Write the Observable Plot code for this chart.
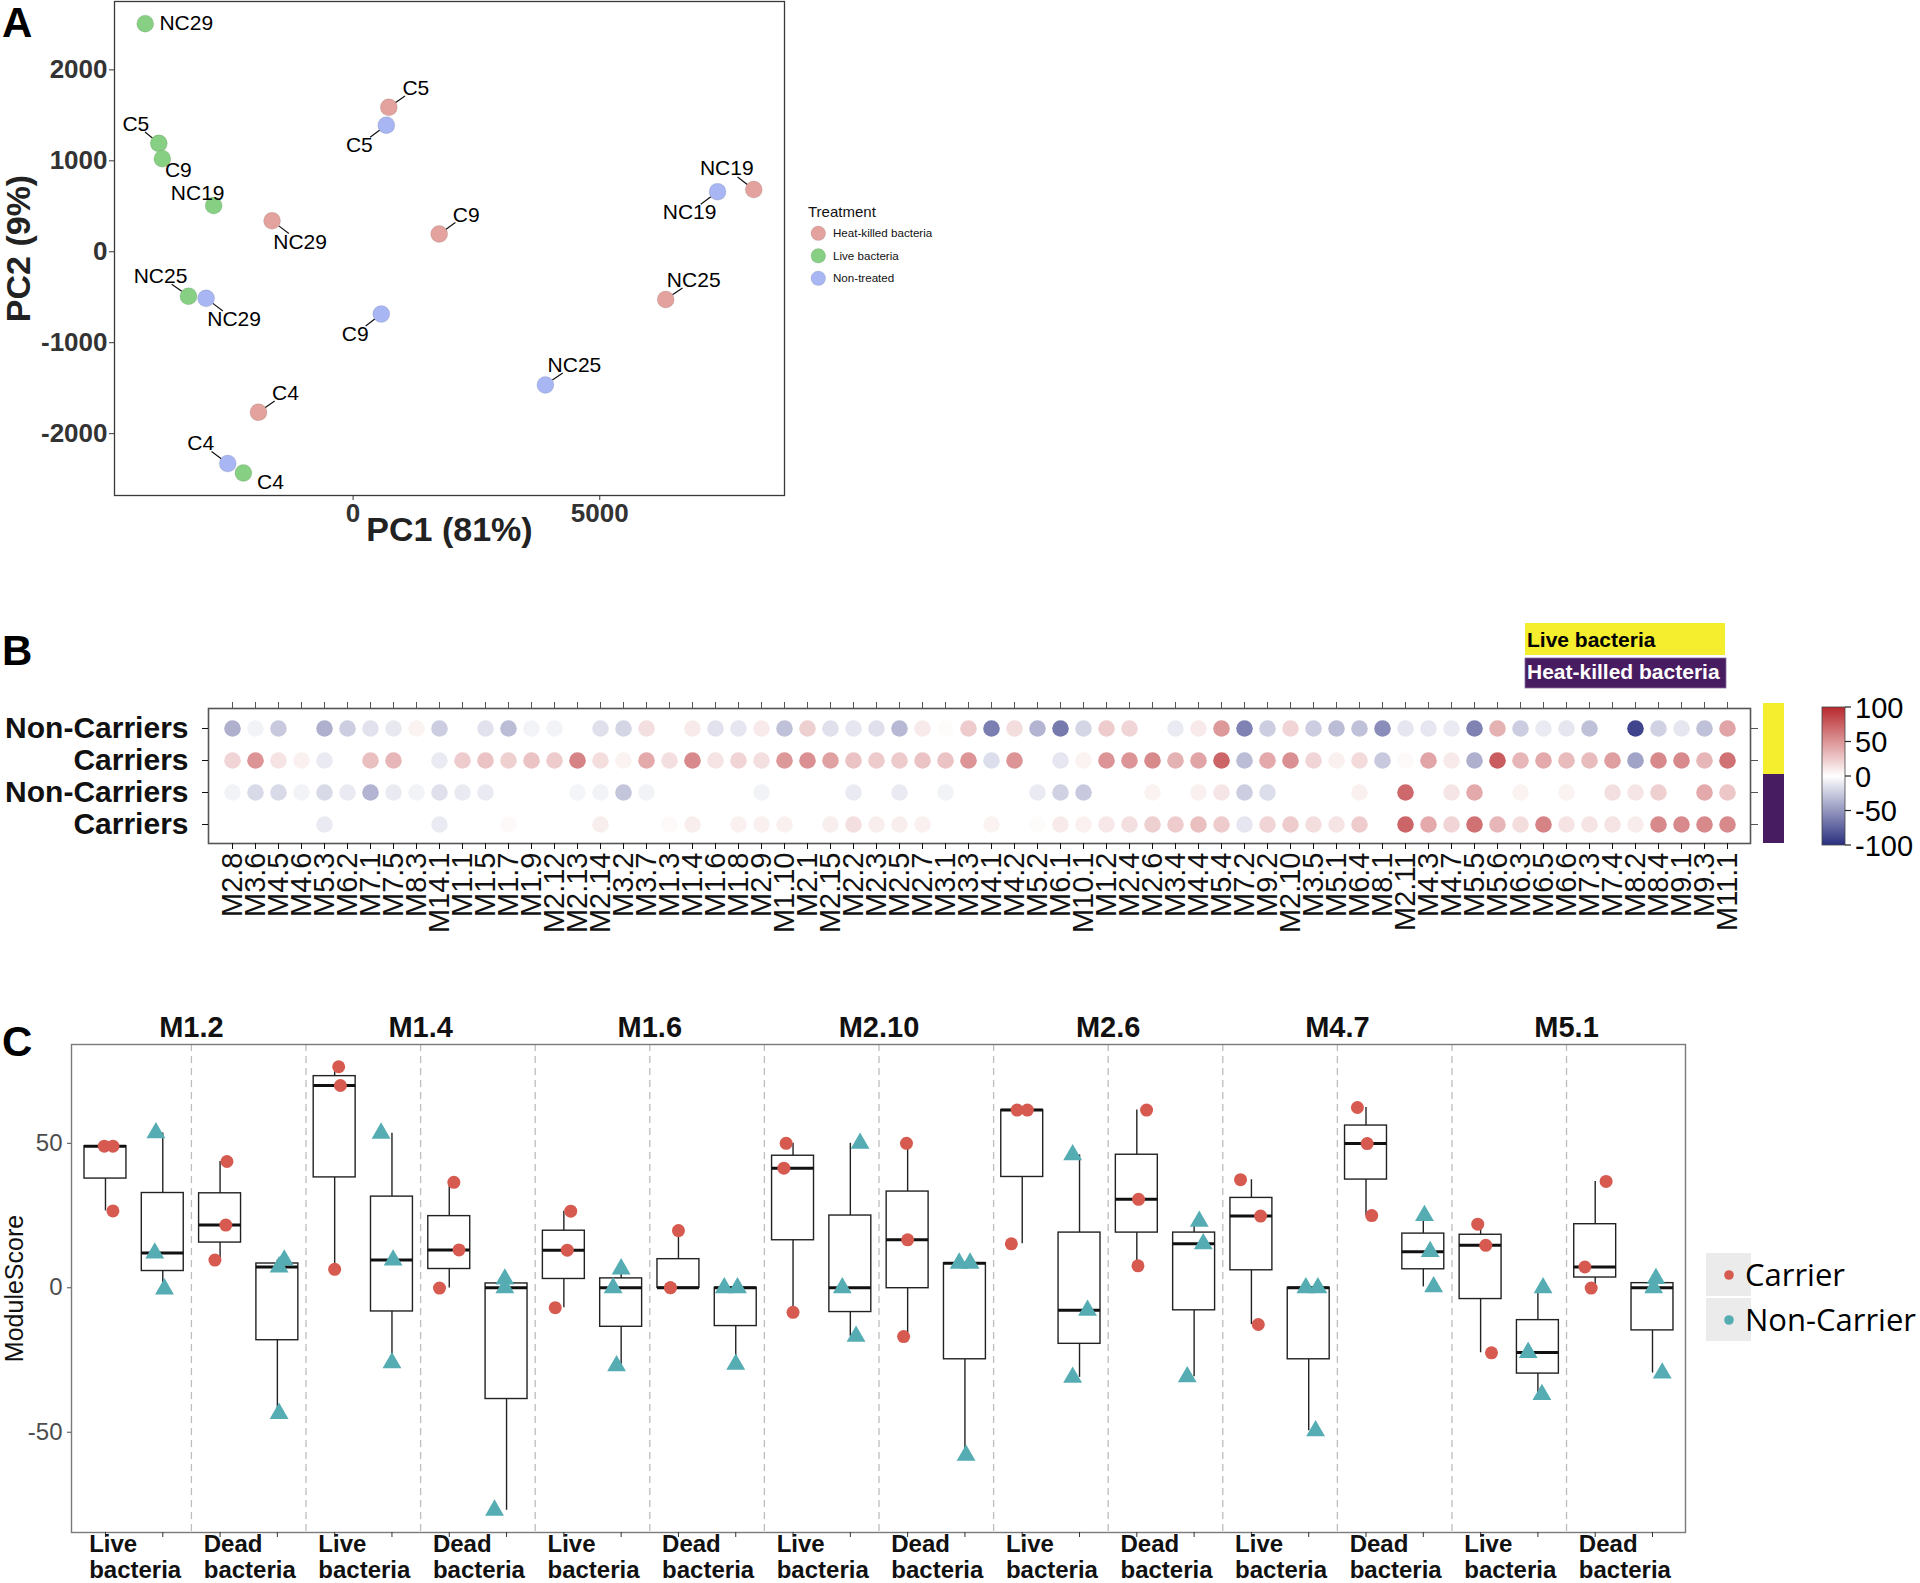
<!DOCTYPE html>
<html>
<head>
<meta charset="utf-8">
<script src="https://cdn.jsdelivr.net/npm/d3@7"></script>
<script src="https://cdn.jsdelivr.net/npm/@observablehq/plot@0.6"></script>
<style>
html,body{margin:0;padding:0;background:#fff;}
#page{position:relative;width:1920px;height:1583px;overflow:hidden;background:#fff;font-family:"Liberation Sans",Arial,Helvetica,sans-serif;}
#page svg{position:absolute;overflow:visible;}
</style>
</head>
<body>
<div id="page"></div>
<script>
// ================= DATA =================
// ---- Panel A: PCA ----
const treatmentLevels = ["Heat-killed bacteria", "Live bacteria", "Non-treated"];
const pcaSamples   = ["NC29","C5","C9","NC19","NC25","C4",  "C5","NC19","NC29","C9","NC25","C4",  "C5","NC19","NC29","C9","NC25","C4"];
const pcaTreatment = ["Live bacteria","Live bacteria","Live bacteria","Live bacteria","Live bacteria","Live bacteria",
                      "Non-treated","Non-treated","Non-treated","Non-treated","Non-treated","Non-treated",
                      "Heat-killed bacteria","Heat-killed bacteria","Heat-killed bacteria","Heat-killed bacteria","Heat-killed bacteria","Heat-killed bacteria"];
const pcaPC1 = [-4214,-3939,-3867,-2827,-3337,-2224,   673, 7388,-2980,  571, 3898,-2541,   724, 8122,-1643, 1745, 6337,-1918];
const pcaPC2 = [ 2508, 1192, 1024,  508, -488,-2432,  1392,  660, -512, -684,-1464,-2328,  1588,  684,  340,  196, -524,-1764];
const pcaXTicks = [0, 5000];
const pcaYTicks = [-2000, -1000, 0, 1000, 2000];

// ---- Panel B: module dot matrix ----
const bModules = ["M2.8","M3.6","M4.5","M4.6","M5.3","M6.2","M7.1","M7.5","M8.3","M14.1",
  "M1.1","M1.5","M1.7","M1.9","M2.12","M2.13","M2.14","M3.2","M3.7","M1.3",
  "M1.4","M1.6","M1.8","M2.9","M1.10","M2.1","M2.15","M2.2","M2.3","M2.5",
  "M2.7","M3.1","M3.3","M4.1","M4.2","M5.2","M6.1","M10.1","M1.2","M2.4",
  "M2.6","M3.4","M4.4","M5.4","M7.2","M9.2","M2.10","M3.5","M5.1","M6.4",
  "M8.1","M2.11","M4.3","M4.7","M5.5","M5.6","M6.3","M6.5","M6.6","M7.3",
  "M7.4","M8.2","M8.4","M9.1","M9.3","M11.1"];
const bRowKeys   = ["Live|Non-Carriers", "Live|Carriers", "Heat-killed|Non-Carriers", "Heat-killed|Carriers"];
const bRowLabels = ["Non-Carriers", "Carriers", "Non-Carriers", "Carriers"];
const bLiveNonCarriers = [-38,-6,-26,null,-38,-24,-14,-11,6,-24,
  null,-14,-32,-6,-6,null,-15,-20,15,null,
  10,-14,-12,10,-30,22,-15,-12,-15,-34,
  10,2,24,-62,16,-36,-64,-20,24,20,
  null,-10,10,48,-60,-24,20,-24,-32,-30,
  -55,-12,-12,-10,-60,36,-24,-10,-12,-30,
  null,-90,-22,-12,-30,42];
const bLiveCarriers = [20,50,13,7,-10,null,30,34,null,-10,
  24,28,22,28,24,58,16,6,40,15,
  55,13,20,15,48,52,44,28,25,25,
  28,28,50,-16,50,null,-12,6,50,50,
  55,36,42,72,-32,40,52,20,7,17,
  -26,3,42,10,-38,76,34,40,32,32,
  45,-44,55,55,34,66];
const bHeatNonCarriers = [-6,-18,-18,-6,-18,-10,-36,-10,-6,-15,
  -10,-10,null,null,null,-5,-6,-28,-6,null,
  null,null,null,-6,null,null,null,-10,null,-10,
  null,-6,null,null,null,-10,-22,-26,null,null,
  6,null,7,12,-24,-16,null,null,null,7,
  null,70,null,12,40,null,6,null,6,null,
  15,12,22,null,40,26];
const bHeatCarriers = [null,null,null,null,-10,null,null,null,null,-10,
  null,null,3,null,null,null,8,null,null,3,
  8,null,7,7,7,null,8,15,8,8,
  7,null,null,6,null,2,10,7,11,15,
  22,24,30,24,-12,20,24,16,13,24,
  null,72,40,20,66,34,16,58,13,13,
  13,9,55,55,55,55];
const bScaleTicks = [100, 50, 0, -50, -100];
const bStimuli = ["Live bacteria", "Heat-killed bacteria"];

// ---- Panel C: module scores (3 donors per box) ----
const cModules = ["M1.2","M1.4","M1.6","M2.10","M2.6","M4.7","M5.1"];
const cTreatments = ["Live bacteria", "Dead bacteria"];
const cStatus = ["Carrier", "Non-Carrier"];
// per module: [Live-Carrier, Live-NonCarrier, Dead-Carrier, Dead-NonCarrier]
const scoreM1_2  = [[49,49,26.6],[53.6,12,-0.4],[43.7,21.7,9.6],[9.6,7.2,-43.5]];
const scoreM1_4  = [[76.5,70,6.4],[53.5,9.6,-26],[36.5,13.1,-0.1],[3,0,-77]];
const scoreM1_6  = [[26.5,13,-6.9],[6.5,0,-27],[19.8,0,0],[0,0,-26.5]];
const scoreM2_10 = [[50,41.4,-8.5],[50,0,-16.8],[50,16.6,-16.9],[8.5,8.5,-58]];
const scoreM2_6  = [[61.5,61.5,15.2],[46,-7.8,-31],[61.5,30.6,7.6],[23,15.2,-30.8]];
const scoreM4_7  = [[37.4,24.8,-12.7],[0,0,-49.5],[62.4,49.9,25],[25,12.5,0.3]];
const scoreM5_1  = [[22,14.7,-22.5],[0,-22.4,-37],[36.8,7.2,-0.1],[3.2,0,-29.5]];
// horizontal jitter of each point (in box units)
const jitterM1_2  = [[-0.02,0.13,0.13],[-0.12,-0.14,0.03],[0.12,0.10,-0.09],[0.12,0.03,0.03]];
const jitterM1_4  = [[0.07,0.10,0],[-0.19,0.02,0],[0.08,0.17,-0.17],[-0.03,-0.03,-0.21]];
const jitterM1_6  = [[0.12,0.06,-0.15],[0,-0.14,-0.08],[0,-0.14,-0.14],[-0.2,0.03,0]];
const jitterM2_10 = [[-0.12,-0.16,0],[0.17,-0.14,0.1],[-0.02,0,-0.07],[-0.1,0.09,0.02]];
const jitterM2_6  = [[-0.09,0.09,-0.19],[-0.12,0.14,-0.12],[0.17,0.03,0.02],[0.09,0.16,-0.12]];
const jitterM4_7  = [[-0.19,0.16,0.12],[-0.05,0.16,0.12],[-0.15,0.02,0.1],[0.02,0.12,0.18]];
const jitterM5_1  = [[-0.05,0.09,0.19],[0.09,-0.17,0.07],[0.19,-0.18,-0.07],[0.06,0.02,0.17]];
const cScores = [scoreM1_2, scoreM1_4, scoreM1_6, scoreM2_10, scoreM2_6, scoreM4_7, scoreM5_1];
const cJitter = [jitterM1_2, jitterM1_4, jitterM1_6, jitterM2_10, jitterM2_6, jitterM4_7, jitterM5_1];
const cYTicks = [-50, 0, 50];

// ================= LAYOUT / STYLE =================
const FONT = '"Liberation Sans", Arial, Helvetica, sans-serif';
const page = document.getElementById("page");
function place(svg, left, top) { svg.style.left = left + "px"; svg.style.top = top + "px"; page.appendChild(svg); return svg; }

// label offsets for panel A (pixels: dx, dy, draw connector)
const pcaLabelOffsets = [[41,0,0],[-23,-19,1],[16,12,0],[-16,-12,0],[-28,-20,1],[27,9,0],
                         [-27,20,1],[-28,21,1],[28,21,1],[-26,20,1],[29,-20,1],[-27,-20,1],
                         [27,-19,1],[-27,-21,1],[28,21,1],[27,-19,1],[28,-19,1],[27,-18.5,1]];
const treatColors = ["#E3A29D", "#86CF83", "#A8B6F4"];

// ---------- Panel A ----------
const LA = {w: 800, h: 565, ml: 114, mr: 16, mt: 1, mb: 70};
const aX = [-4837, 8745], aY = [-2680, 2752];
const kxA = (aX[1] - aX[0]) / (LA.w - LA.ml - LA.mr);
const kyA = (aY[1] - aY[0]) / (LA.h - LA.mt - LA.mb);
const rowsA = pcaSamples.map((s, i) => ({
  sample: s, treatment: pcaTreatment[i], pc1: pcaPC1[i], pc2: pcaPC2[i],
  lx: pcaPC1[i] + pcaLabelOffsets[i][0] * kxA,
  ly: pcaPC2[i] - pcaLabelOffsets[i][1] * kyA,
  seg: pcaLabelOffsets[i][2]
}));
const segA = rowsA.filter(d => d.seg);
const plotA = Plot.plot({
  width: LA.w, height: LA.h, marginLeft: LA.ml, marginRight: LA.mr, marginTop: LA.mt, marginBottom: LA.mb,
  style: {fontFamily: FONT, background: "none", overflow: "visible"},
  x: {domain: aX}, y: {domain: aY},
  color: {domain: treatmentLevels, range: treatColors},
  marks: [
    Plot.frame({stroke: "#3a3a3a", strokeWidth: 1.3}),
    Plot.axisX({ticks: pcaXTicks, tickSize: 5, tickPadding: 3, tickFormat: d => String(d), fontSize: 26, fontWeight: "bold", color: "#333", label: null}),
    Plot.axisY({ticks: pcaYTicks, tickSize: 5, tickPadding: 2, tickFormat: d => String(d), fontSize: 26, fontWeight: "bold", color: "#333", label: null}),
    Plot.link(segA, {
      x1: d => d.pc1 + 0.24 * (d.lx - d.pc1), y1: d => d.pc2 + 0.24 * (d.ly - d.pc2),
      x2: d => d.pc1 + 0.6 * (d.lx - d.pc1), y2: d => d.pc2 + 0.6 * (d.ly - d.pc2),
      stroke: "#111", strokeWidth: 1.2
    }),
    Plot.dot(rowsA, {x: "pc1", y: "pc2", r: 8.5, fill: "treatment", stroke: "#000", strokeOpacity: 0.08, strokeWidth: 1.2}),
    Plot.text(rowsA, {x: "lx", y: "ly", text: "sample", fontSize: 21, fill: "#000"}),
    Plot.text(["PC1 (81%)"], {frameAnchor: "bottom", textAnchor: "middle", dy: 45, fontSize: 34, fontWeight: "bold", fill: "#222"}),
    Plot.text(["PC2 (9%)"], {frameAnchor: "left", textAnchor: "middle", dx: -95, rotate: -90, fontSize: 34, fontWeight: "bold", fill: "#222"})
  ]
});
place(plotA, 0, 0);

// ---------- Panel B ----------
const bRows = [bLiveNonCarriers, bLiveCarriers, bHeatNonCarriers, bHeatCarriers];
const cellsB = [];
bRows.forEach((vals, r) => vals.forEach((v, c) => { if (v !== null) cellsB.push({module: bModules[c], row: bRowKeys[r], value: v}); }));
const bColorRange = ["#2A2F7F", "#FFFFFF", "#B8292D"];
const LB = {w: 1760, h: 262, ml: 208, mr: 10, mt: 18, mb: 109};
const plotB = Plot.plot({
  width: LB.w, height: LB.h, marginLeft: LB.ml, marginRight: LB.mr, marginTop: LB.mt, marginBottom: LB.mb,
  style: {fontFamily: FONT, background: "none", overflow: "visible"},
  x: {type: "point", domain: bModules, padding: 0.65},
  y: {type: "point", domain: bRowKeys, padding: 0.57},
  color: {type: "linear", domain: [-100, 0, 100], range: bColorRange, interpolate: "rgb"},
  marks: [
    Plot.frame({stroke: "#555", strokeWidth: 1.6}),
    Plot.axisX({anchor: "bottom", tickSize: 6, tickPadding: 3, tickRotate: -90, fontSize: 29, color: "#111", label: null}),
    Plot.axisX({anchor: "top", tickSize: 7, tickFormat: () => "", color: "#555", label: null}),
    Plot.axisY({anchor: "left", tickSize: 6, tickPadding: 14, tickFormat: d => bRowLabels[bRowKeys.indexOf(d)], fontSize: 30, fontWeight: "bold", color: "#111", label: null}),
    Plot.axisY({anchor: "right", tickSize: 7, tickFormat: () => "", color: "#555", label: null}),
    Plot.dot(cellsB, {x: "module", y: "row", r: 8.3, fill: "value"})
  ]
});
place(plotB, 0, 690);
const colorB = plotB.scale("color");

// ---------- Panel C ----------
const boxes = [], pointsC = [];
cModules.forEach((m, mi) => cScores[mi].forEach((vals, k) => {
  const i = 4 * mi + k;
  const s = vals.slice().sort(d3.ascending);
  const q1 = d3.quantile(s, 0.25), med = d3.quantile(s, 0.5), q3 = d3.quantile(s, 0.75), iqr = q3 - q1;
  const lo = d3.min(s.filter(v => v >= q1 - 1.5 * iqr)), hi = d3.max(s.filter(v => v <= q3 + 1.5 * iqr));
  boxes.push({i, q1, med, q3, lo, hi});
  vals.forEach((v, j) => pointsC.push({i, x: i + cJitter[mi][k][j], v, status: cStatus[k % 2]}));
}));
const pairsC = d3.range(cModules.length * 2).map(p => ({x: 2 * p + 0.5, label: cTreatments[p % 2]}));
const dividersC = pairsC.slice(1).map(p => p.x - 1);
const titlesC = cModules.map((m, mi) => ({x: 4 * mi + 1.5, label: m}));
const HW = 0.366;
const LC = {w: 1700, h: 593, ml: 71, mr: 15, mt: 54, mb: 51};
const cColors = {Carrier: "#D65A50", "Non-Carrier": "#55ADB3"};
const plotC = Plot.plot({
  width: LC.w, height: LC.h, marginLeft: LC.ml, marginRight: LC.mr, marginTop: LC.mt, marginBottom: LC.mb,
  style: {fontFamily: FONT, background: "none", overflow: "visible"},
  x: {domain: [-0.593, 27.576]}, y: {domain: [-84.7, 84.2]},
  marks: [
    Plot.ruleX(dividersC, {x: d => d, stroke: "#BDBDBD", strokeWidth: 1.3, strokeDasharray: "7,5"}),
    Plot.frame({stroke: "#7a7a7a", strokeWidth: 1.4}),
    Plot.axisY({ticks: cYTicks, tickSize: 4, tickPadding: 5, tickFormat: d => String(d), fontSize: 24, color: "#4D4D4D", label: null}),
    Plot.axisX({ticks: boxes.map(b => b.i), tickSize: 5, tickFormat: () => "", color: "#333", label: null}),
    Plot.ruleX(boxes, {x: "i", y1: "lo", y2: "q1", stroke: "#222", strokeWidth: 1.4}),
    Plot.ruleX(boxes, {x: "i", y1: "q3", y2: "hi", stroke: "#222", strokeWidth: 1.4}),
    Plot.rect(boxes, {x1: d => d.i - HW, x2: d => d.i + HW, y1: "q1", y2: "q3", fill: "#fff", stroke: "#222", strokeWidth: 1.4}),
    Plot.ruleY(boxes, {y: "med", x1: d => d.i - HW, x2: d => d.i + HW, stroke: "#111", strokeWidth: 3}),
    Plot.dot(pointsC.filter(d => d.status === "Carrier"), {x: "x", y: "v", r: 6.5, fill: cColors.Carrier}),
    Plot.dot(pointsC.filter(d => d.status === "Non-Carrier"), {x: "x", y: "v", r: 7, symbol: "triangle", fill: cColors["Non-Carrier"]}),
    Plot.text(pairsC, {x: "x", text: d => d.label.replace(" ", "\n"), frameAnchor: "bottom", textAnchor: "start", lineAnchor: "top", dx: -45, dy: 2, lineHeight: 1.05, fontSize: 24, fontWeight: "bold", fill: "#111"}),
    Plot.text(titlesC, {x: "x", text: "label", frameAnchor: "top", textAnchor: "middle", lineAnchor: "bottom", dy: -8, fontSize: 29, fontWeight: "bold", fill: "#111"}),
    Plot.text(["ModuleScore"], {frameAnchor: "left", textAnchor: "middle", dx: -57, rotate: -90, fontSize: 25, fill: "#111"})
  ]
});
place(plotC, 0, 990);

// ---------- Overlay: panel letters and legends ----------
const ov = d3.select(page).append("svg").attr("width", 1920).attr("height", 1583)
  .style("left", "0px").style("top", "0px").style("font-family", FONT);
[["A", 2, 37], ["B", 2, 665], ["C", 2, 1056]].forEach(([t, x, y]) =>
  ov.append("text").attr("x", x).attr("y", y).attr("font-size", 42).attr("font-weight", "bold").attr("fill", "#000").text(t));

// Panel A legend
ov.append("text").attr("x", 808).attr("y", 217).attr("font-size", 15).attr("fill", "#111").text("Treatment");
treatmentLevels.forEach((t, i) => {
  const cy = 233.3 + i * 22.5;
  ov.append("circle").attr("cx", 818.3).attr("cy", cy).attr("r", 7.3).attr("fill", treatColors[i]).attr("stroke", "rgba(0,0,0,0.08)").attr("stroke-width", 1.2);
  ov.append("text").attr("x", 833).attr("y", cy + 4.1).attr("font-size", 11.6).attr("fill", "#111").text(t);
});

// Panel B stimulus legend and side strips
const stimColors = ["#F5EE2E", "#481C60"];
const defs = ov.append("defs");
defs.append("clipPath").attr("id", "clipHK").append("rect").attr("x", 1525).attr("y", 658).attr("width", 201).attr("height", 30);
ov.append("rect").attr("x", 1525).attr("y", 623).attr("width", 200).attr("height", 32).attr("fill", stimColors[0]);
ov.append("text").attr("x", 1527).attr("y", 647).attr("font-size", 21).attr("font-weight", "bold").attr("fill", "#000").text(bStimuli[0]);
ov.append("rect").attr("x", 1525).attr("y", 658).attr("width", 201).attr("height", 30).attr("fill", stimColors[1]).attr("stroke", "#8a6fa0").attr("stroke-width", 0.8);
ov.append("text").attr("x", 1527).attr("y", 679).attr("font-size", 21).attr("font-weight", "bold").attr("fill", "#fff").attr("clip-path", "url(#clipHK)").text(bStimuli[1]);
ov.append("rect").attr("x", 1763).attr("y", 703).attr("width", 21).attr("height", 71).attr("fill", stimColors[0]);
ov.append("rect").attr("x", 1763).attr("y", 774).attr("width", 21).attr("height", 69).attr("fill", stimColors[1]);

// Panel B colour bar
const grad = defs.append("linearGradient").attr("id", "gradB").attr("x1", 0).attr("y1", 0).attr("x2", 0).attr("y2", 1);
d3.range(0, 1.0001, 0.05).forEach(t => grad.append("stop").attr("offset", t).attr("stop-color", colorB.apply(100 - 200 * t)));
const cbTop = 707, cbBot = 845;
ov.append("rect").attr("x", 1822).attr("y", cbTop).attr("width", 23).attr("height", cbBot - cbTop).attr("fill", "url(#gradB)").attr("stroke", "#444").attr("stroke-width", 0.8);
bScaleTicks.forEach(v => {
  const y = cbTop + (100 - v) / 200 * (cbBot - cbTop);
  ov.append("line").attr("x1", 1845).attr("x2", 1851).attr("y1", y).attr("y2", y).attr("stroke", "#222").attr("stroke-width", 1.2);
  ov.append("text").attr("x", 1855).attr("y", y + 10.5).attr("font-size", 29).attr("fill", "#000").text(String(v));
});

// Panel C legend
cStatus.forEach((s, i) => {
  const y0 = 1253 + i * 45;
  ov.append("rect").attr("x", 1706).attr("y", y0).attr("width", 45).attr("height", 43).attr("fill", "#EBEBEB");
  ov.append("circle").attr("cx", 1729).attr("cy", y0 + 22).attr("r", 4.8).attr("fill", cColors[s]);
  ov.append("text").attr("x", 1745).attr("y", y0 + 33).attr("font-size", 31).attr("font-family", '"Open Sans", "Noto Sans", sans-serif').attr("fill", "#000").text(s);
});
</script>
</body>
</html>
